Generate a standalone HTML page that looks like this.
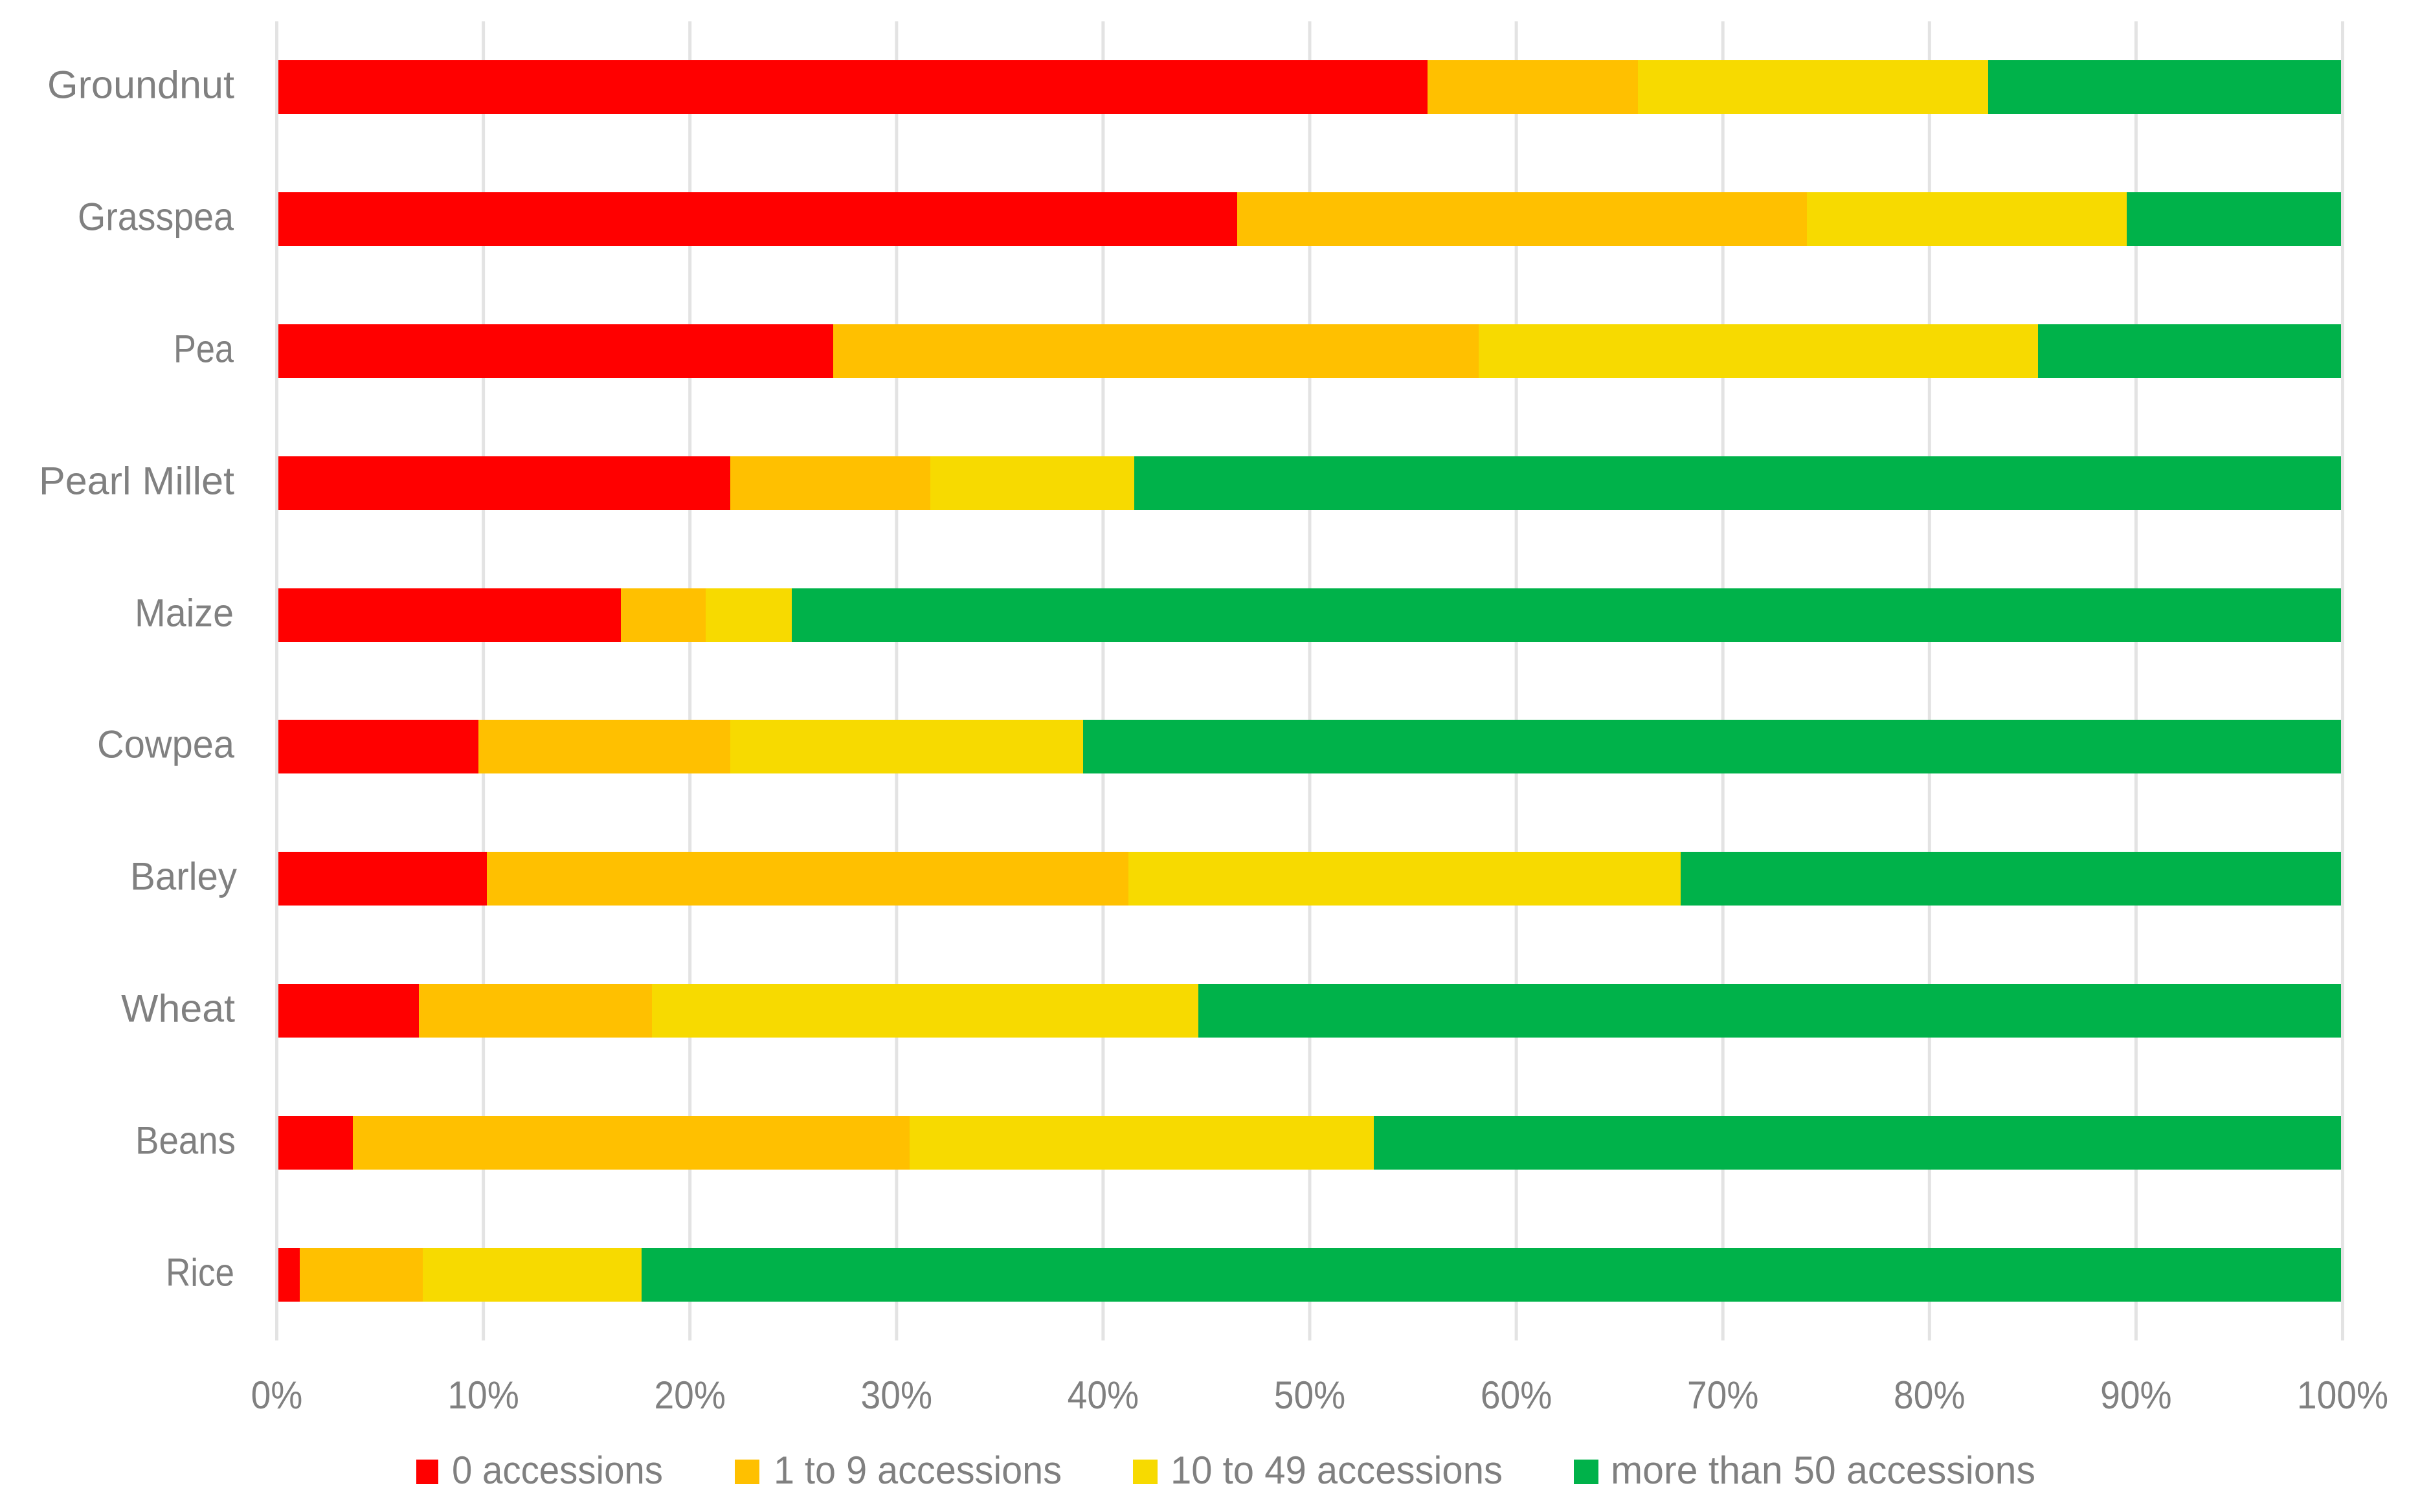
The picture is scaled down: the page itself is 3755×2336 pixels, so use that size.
<!DOCTYPE html>
<html lang="en">
<head>
<meta charset="utf-8">
<title>Accessions by crop</title>
<style>
  html, body { margin: 0; padding: 0; background: #fff; }
  svg { display: block; }
  text { font-family: "Liberation Sans", sans-serif; font-size: 60px; fill: #808080; }
</style>
</head>
<body>
<svg id="chart" xmlns="http://www.w3.org/2000/svg" width="3755" height="2336" viewBox="0 0 3755 2336">
  <rect x="0" y="0" width="3755" height="2336" fill="#ffffff"/>
  <g id="grid"></g>
  <g id="bars"></g>
  <g id="yaxis"></g>
  <g id="xaxis"></g>
  <g id="legend"></g>
</svg>
<script>
const categories = ["Groundnut", "Grasspea", "Pea", "Pearl Millet", "Maize", "Cowpea", "Barley", "Wheat", "Beans", "Rice"];
const seriesNames = ["0 accessions", "1 to 9 accessions", "10 to 49 accessions", "more than 50 accessions"];
const zeroAccessions = [55.7, 46.5, 26.9, 21.9, 16.6, 9.7, 10.1, 6.8, 3.6, 1.05];
const oneToNine = [10.2, 27.6, 31.3, 9.7, 4.1, 12.2, 31.1, 11.3, 27.0, 5.95];
const tenToFortyNine = [17.0, 15.5, 27.1, 9.9, 4.2, 17.1, 26.8, 26.5, 22.5, 10.6];
const moreThanFifty = [17.1, 10.4, 14.7, 58.5, 75.1, 61.0, 32.0, 55.4, 46.9, 82.4];
const tickValues = [0, 10, 20, 30, 40, 50, 60, 70, 80, 90, 100];
const tickLabels = ["0%", "10%", "20%", "30%", "40%", "50%", "60%", "70%", "80%", "90%", "100%"];

const seriesValues = [zeroAccessions, oneToNine, tenToFortyNine, moreThanFifty];
const seriesColors = ["#ff0000", "#ffc000", "#f7da00", "#00b24a"];
const NS = "http://www.w3.org/2000/svg";

/* layout */
const barLeft = 430, barRight = 3616, gridLeft = 427.5, gridRight = 3618.5;
const gridTop = 33, gridBottom = 2071, gridWidth = 5;
const firstBarTop = 93, lastBarTop = 1928, barHeight = 83;
const tickBaseline = 2176, tickSqueeze = 0.92;
const labelSpans = {
  "Groundnut": [73, 362], "Grasspea": [120, 361], "Pea": [268, 361], "Pearl Millet": [60, 362],
  "Maize": [208, 361], "Cowpea": [150, 362], "Barley": [201, 366], "Wheat": [187, 363],
  "Beans": [209, 364], "Rice": [256, 362]
};
const legendLayout = [
  { swatchX: 643, swatchW: 34, textX: 698, textW: 326 },
  { swatchX: 1135, swatchW: 38, textX: 1195, textW: 445 },
  { swatchX: 1750, swatchW: 38, textX: 1808, textW: 513 },
  { swatchX: 2431, swatchW: 38, textX: 2488, textW: 656 }
];

/* axis functions */
function xBar(share) { return barLeft + (barRight - barLeft) * share / 100; }
function xGrid(value) { return gridLeft + (gridRight - gridLeft) * value / 100; }
function yBand(i) { return Math.round(firstBarTop + (lastBarTop - firstBarTop) * i / (categories.length - 1)); }

function make(tag, attrs, parentId) {
  const el = document.createElementNS(NS, tag);
  for (const k in attrs) el.setAttribute(k, attrs[k]);
  document.getElementById(parentId).appendChild(el);
  return el;
}

/* gridlines */
tickValues.forEach(function (v, i) {
  const line = make("rect", { x: xGrid(v) - gridWidth / 2, y: gridTop, width: gridWidth, height: gridBottom - gridTop, fill: "#e3e3e3" }, "grid");
  
  
});

/* bars */
categories.forEach(function (cat, i) {
  let total = 0;
  seriesValues.forEach(function (s) { total += s[i]; });
  let cum = 0;
  seriesValues.forEach(function (s, j) {
    const x0 = Math.round(xBar(cum / total * 100));
    cum += s[i];
    const x1 = Math.round(xBar(cum / total * 100));
    const bar = make("rect", { x: x0, y: yBand(i), width: x1 - x0, height: barHeight, fill: seriesColors[j], "shape-rendering": "crispEdges" }, "bars");
    
    
  });

  const span = labelSpans[cat] || [null, 362];
  const label = make("text", { x: span[1], y: yBand(i) + barHeight / 2 + 17, "text-anchor": "end" }, "yaxis");
  label.textContent = cat;
  
  
  if (span[0] !== null) {
    label.setAttribute("textLength", span[1] - span[0]);
    label.setAttribute("lengthAdjust", "spacingAndGlyphs");
  }
});

/* x tick labels */
tickValues.forEach(function (v, i) {
  const t = make("text", { x: xGrid(v), y: tickBaseline, "text-anchor": "middle" }, "xaxis");
  t.textContent = tickLabels[i];
  
  
  const natural = t.getComputedTextLength();
  t.setAttribute("textLength", natural * tickSqueeze);
  t.setAttribute("lengthAdjust", "spacingAndGlyphs");
});

/* legend */
seriesNames.forEach(function (name, j) {
  const box = legendLayout[j];
  const swatch = make("rect", { x: box.swatchX, y: 2255, width: box.swatchW, height: 38, fill: seriesColors[j] }, "legend");
  
  
  const label = make("text", { x: box.textX, y: 2292, textLength: box.textW, lengthAdjust: "spacingAndGlyphs" }, "legend");
  label.textContent = name;
  
  
});
</script>
</body>
</html>
